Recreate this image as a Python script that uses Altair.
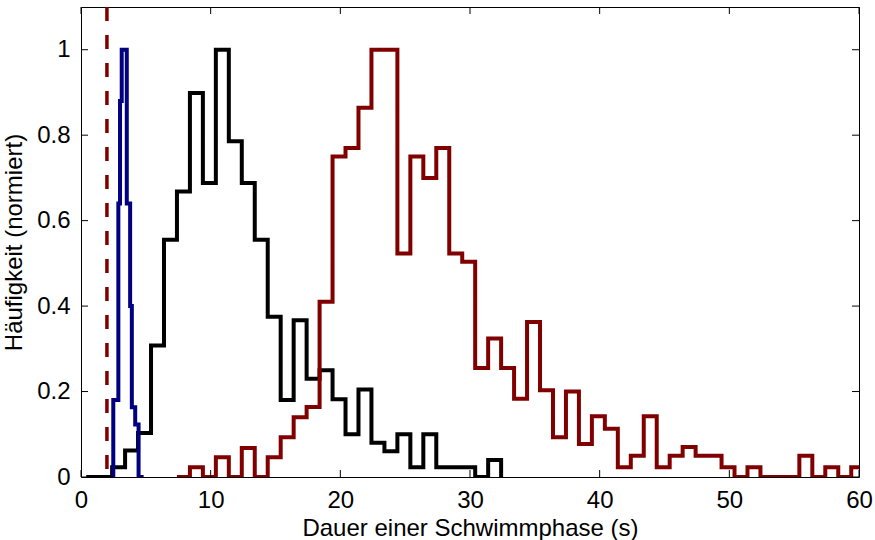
import altair as alt
import pandas as pd

# ---------------- data ----------------
X_TICKS = [0, 10, 20, 30, 40, 50, 60]
Y_TICKS = [0, 0.2, 0.4, 0.6, 0.8, 1.0]
THRESHOLD = [2.0]

# black histogram: bins of width 1 starting at 0.4
black_start = 0.4
black_width = 1.0
black_vals = [0, 0, 0.023, 0.062, 0.103, 0.308, 0.555, 0.668, 0.899, 0.688,
              1.0, 0.786, 0.688, 0.555, 0.375, 0.18, 0.367, 0.23, 0.25, 0.182,
              0.10, 0.205, 0.08, 0.06, 0.10, 0.023, 0.10, 0.023, 0.023, 0.023,
              0, 0.04, 0]

# dark red histogram: bins of width 1 starting at 7.4
red_start = 7.4
red_width = 1.0
red_vals = [0, 0.023, 0, 0.046, 0, 0.068, 0, 0.046, 0.093, 0.14,
            0.164, 0.41, 0.75, 0.77, 0.864, 1.0, 1.0, 0.523, 0.75, 0.70,
            0.77, 0.523, 0.504, 0.255, 0.324, 0.255, 0.183, 0.363, 0.203, 0.093,
            0.2, 0.077, 0.142, 0.113, 0.023, 0.05, 0.142, 0.023, 0.05, 0.07,
            0.05, 0.05, 0.023, 0, 0.023, 0, 0, 0, 0.05, 0,
            0.023, 0, 0.023]

# navy histogram: narrow bins starting at 2.36
blue_start = 2.36
blue_width = 0.13
blue_vals = [0, 0.18, 0.18, 0.18, 0.64, 0.88, 1.0, 1.0, 1.0, 0.64,
             0.64, 0.40, 0.163, 0.163, 0.123, 0.123, 0, 0, 0, 0]

FONT = "Liberation Sans"
W, H = 778, 470


def stairs(start, width, vals, extend=True):
    xs = [round(start + i * width, 4) for i in range(len(vals))]
    ys = list(vals)
    if extend:
        xs.append(round(start + len(vals) * width, 4))
        ys.append(vals[-1])
    return pd.DataFrame({"x": xs, "y": ys})


x_scale = alt.Scale(domain=[0, 60], nice=False, zero=False)
y_scale = alt.Scale(domain=[0, 1.1], nice=False, zero=False)

x_axis = alt.Axis(values=X_TICKS, title="Dauer einer Schwimmphase (s)",
                  ticks=False, tickSize=0, domain=False, grid=False,
                  labelFontSize=24, labelFont=FONT, labelColor="black",
                  labelPadding=11, labelFlush=False,
                  titleFontSize=24, titleFont=FONT, titleFontWeight="normal",
                  titleColor="black", titlePadding=4)
y_axis = alt.Axis(values=Y_TICKS, format="~g", title="Häufigkeit (normiert)",
                  ticks=False, tickSize=0, domain=False, grid=False,
                  labelFontSize=24, labelFont=FONT, labelColor="black",
                  labelPadding=11, labelFlush=False,
                  titleFontSize=24, titleFont=FONT, titleFontWeight="normal",
                  titleColor="black", titlePadding=10)

X = lambda f: alt.X(f, scale=x_scale, axis=x_axis)
Y = lambda f: alt.Y(f, scale=y_scale, axis=y_axis)


def hist_layer(df, color):
    return alt.Chart(df).mark_line(
        interpolate="step-after", color=color, strokeWidth=4, clip=True,
        strokeJoin="miter"
    ).encode(x=X("x:Q"), y=Y("y:Q"))


black = hist_layer(stairs(black_start, black_width, black_vals, extend=False), "#000000")
red = hist_layer(stairs(red_start, red_width, red_vals), "#800000")
blue = hist_layer(stairs(blue_start, blue_width, blue_vals, extend=False), "#000080")

dashed = alt.Chart(pd.DataFrame({"x": THRESHOLD})).mark_rule(
    color="#800000", strokeWidth=3.5, strokeDash=[14, 14]
).encode(x=X("x:Q"))

xt = pd.DataFrame({"v": X_TICKS})
yt = pd.DataFrame({"v": Y_TICKS})
tick_style = dict(color="black", strokeWidth=1)
xb = alt.Chart(xt).mark_rule(**tick_style).encode(
    x=X("v:Q"), y=alt.value(H), y2=alt.value(H - 7))
xtop = alt.Chart(xt).mark_rule(**tick_style).encode(
    x=X("v:Q"), y=alt.value(0), y2=alt.value(7))
yl = alt.Chart(yt).mark_rule(**tick_style).encode(
    y=Y("v:Q"), x=alt.value(0), x2=alt.value(7))
yr = alt.Chart(yt).mark_rule(**tick_style).encode(
    y=Y("v:Q"), x=alt.value(W - 7), x2=alt.value(W))

chart = alt.layer(black, dashed, red, blue, xb, xtop, yl, yr).properties(
    width=W, height=H,
    autosize=alt.AutoSizeParams(type="none"),
    padding={"left": 81, "top": 7, "right": 16, "bottom": 63},
    background="white",
).configure_view(stroke="black", strokeWidth=1)

chart.save("out.html", embed_options={"renderer": "svg", "actions": False})
